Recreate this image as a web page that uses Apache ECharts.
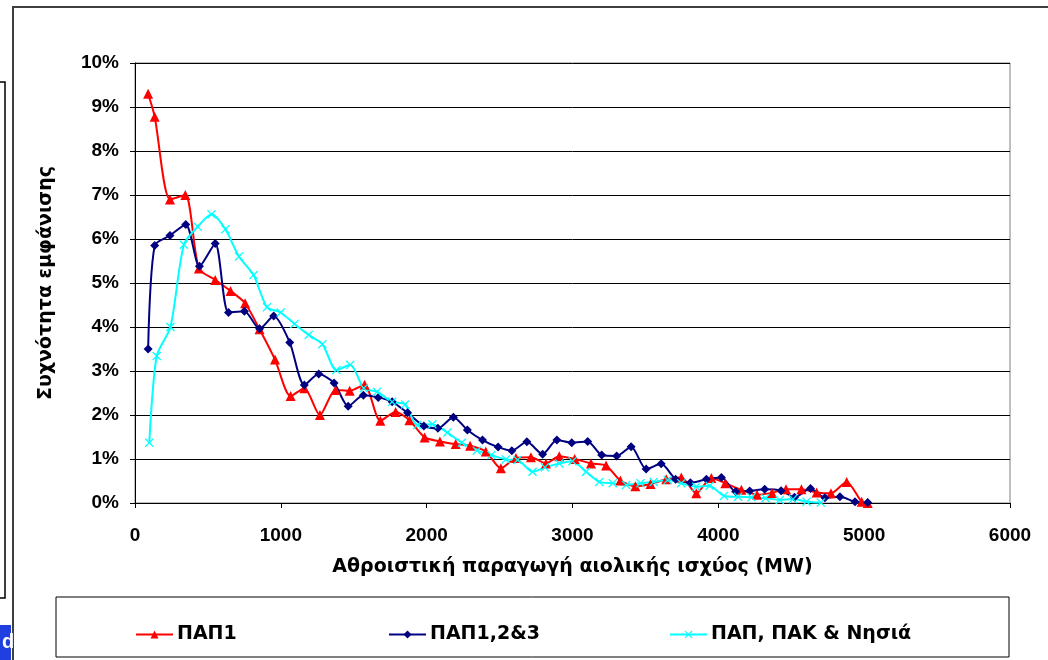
<!DOCTYPE html>
<html>
<head>
<meta charset="utf-8">
<script src="https://cdn.jsdelivr.net/npm/echarts@6/dist/echarts.min.js"></script>
<style>
    html, body { margin: 0; padding: 0; background: #fff; }
    #chart { width: 1048px; height: 660px; }
</style>
</head>
<body>
<div id="chart"></div>
<script>
    // ΠΑΠ1
    var pap1Mw = [90, 135, 240, 345, 438, 550, 655, 755, 854, 960, 1067, 1161, 1268, 1375, 1472, 1574, 1682, 1787, 1882, 1986,
        2091, 2199, 2298, 2405, 2509, 2612, 2715, 2818, 2909, 3015, 3127, 3230, 3328, 3431, 3535, 3643, 3746, 3849, 3952, 4048,
        4158, 4265, 4368, 4464, 4570, 4674, 4772, 4880, 4983, 5024];
    var pap1Pct = [9.30, 8.78, 6.90, 7.00, 5.33, 5.07, 4.82, 4.54, 3.95, 3.26, 2.43, 2.61, 2.00, 2.57, 2.55, 2.69, 1.87, 2.07, 1.88, 1.49,
        1.40, 1.34, 1.30, 1.17, 0.79, 1.02, 1.04, 0.90, 1.06, 1.00, 0.90, 0.85, 0.51, 0.38, 0.43, 0.54, 0.58, 0.22, 0.57, 0.45,
        0.30, 0.19, 0.23, 0.31, 0.31, 0.24, 0.22, 0.48, 0.03, 0.00];

    // ΠΑΠ1,2&3
    var pap123Mw = [90, 135, 240, 348, 442, 550, 641, 750, 854, 951, 1061, 1161, 1260, 1365, 1462, 1566, 1668, 1763, 1869, 1981,
        2077, 2183, 2279, 2383, 2490, 2584, 2687, 2795, 2893, 2995, 3104, 3200, 3303, 3402, 3505, 3608, 3707, 3808, 3918, 4021,
        4119, 4215, 4318, 4430, 4522, 4632, 4731, 4834, 4937, 5024];
    var pap123Pct = [3.50, 5.85, 6.08, 6.33, 5.38, 5.90, 4.33, 4.36, 3.96, 4.25, 3.65, 2.68, 2.93, 2.73, 2.20, 2.45, 2.40, 2.30, 2.05, 1.75,
        1.70, 1.95, 1.66, 1.43, 1.27, 1.19, 1.39, 1.11, 1.43, 1.37, 1.40, 1.09, 1.07, 1.28, 0.77, 0.89, 0.54, 0.46, 0.54, 0.58,
        0.26, 0.27, 0.31, 0.28, 0.13, 0.33, 0.12, 0.14, 0.03, 0.01];

    // ΠΑΠ, ΠΑΚ & Νησιά
    var papPakMw = [98, 149, 243, 335, 430, 525, 620, 713, 813, 905, 999, 1094, 1191, 1285, 1381, 1476, 1569, 1660, 1763, 1853,
        1936, 2039, 2142, 2241, 2344, 2444, 2543, 2623, 2726, 2811, 2909, 3000, 3093, 3184, 3276, 3368, 3466, 3557, 3653, 3746,
        3849, 3940, 4039, 4135, 4227, 4323, 4421, 4512, 4605, 4703];
    var papPakPct = [1.37, 3.34, 4.00, 5.87, 6.28, 6.56, 6.22, 5.60, 5.18, 4.45, 4.33, 4.07, 3.82, 3.61, 3.02, 3.14, 2.61, 2.53, 2.30, 2.24,
        1.77, 1.79, 1.60, 1.37, 1.19, 1.09, 0.99, 0.98, 0.71, 0.81, 0.90, 0.95, 0.71, 0.48, 0.45, 0.41, 0.45, 0.48, 0.52, 0.45,
        0.37, 0.39, 0.16, 0.14, 0.13, 0.11, 0.07, 0.09, 0.03, 0.01];

    var seriesNames = ['ΠΑΠ1', 'ΠΑΠ1,2&3', 'ΠΑΠ, ΠΑΚ & Νησιά'];

    function pairs(xs, ys) {
        return xs.map(function (x, i) { return [x, ys[i]]; });
    }

    var crossSymbol = 'path://M0,1L1,0L5,4L9,0L10,1L6,5L10,9L9,10L5,6L1,10L0,9L4,5Z';
    var tickFont = 'Liberation Sans, Arial, sans-serif';
    var greekFont = 'DejaVu Sans, Verdana, sans-serif';
    var tickStyle = { color: '#000', fontFamily: tickFont, fontWeight: 'bold', fontSize: 19 };
    var nameStyle = { color: '#000', fontFamily: greekFont, fontWeight: 'bold', fontSize: 19 };

    var chart = echarts.init(document.getElementById('chart'));
    chart.setOption({
        backgroundColor: '#fff',
        animation: false,
        grid: {
            left: 135, right: 38, top: 63, bottom: 157,
            show: true, borderColor: '#808080', borderWidth: 1
        },
        xAxis: {
            type: 'value',
            min: 0, max: 6000, interval: 1000,
            name: 'Αθροιστική παραγωγή αιολικής ισχύος (MW)',
            nameLocation: 'middle',
            nameGap: 55,
            nameTextStyle: nameStyle,
            axisLine: { show: true, lineStyle: { color: '#000', width: 1 } },
            axisTick: { show: true, length: 5, lineStyle: { color: '#000' } },
            axisLabel: Object.assign({ margin: 23, formatter: function (v) { return String(v); } }, tickStyle),
            splitLine: { show: false }
        },
        yAxis: {
            type: 'value',
            min: 0, max: 10, interval: 1,
            name: 'Συχνότητα εμφάνισης',
            nameLocation: 'middle',
            nameGap: 79,
            nameTextStyle: nameStyle,
            axisLine: { show: true, lineStyle: { color: '#000', width: 1 } },
            axisTick: { show: true, length: 5, lineStyle: { color: '#000' } },
            axisLabel: Object.assign({ margin: 16, formatter: '{value}%' }, tickStyle),
            splitLine: { show: true, lineStyle: { color: '#000', width: 1 } }
        },
        legend: [
            { data: [seriesNames[0]], left: 130, top: 620 },
            { data: [seriesNames[1]], left: 383, top: 620 },
            { data: [seriesNames[2]], left: 664, top: 620 }
        ].map(function (l) {
            return Object.assign({
                itemWidth: 37, itemHeight: 10, itemGap: 4,
                textStyle: { color: '#000', fontFamily: greekFont, fontWeight: 'bold', fontSize: 19, padding: [0, 0, 0, -1] }
            }, l);
        }),
        graphic: [
            { type: 'rect', shape: { x: 56, y: 597, width: 953, height: 60 },
              style: { fill: null, stroke: '#000', lineWidth: 1 } },
            { type: 'polyline', shape: { points: [[13, 660], [13, 7], [1048, 7]] },
              style: { fill: null, stroke: '#404040', lineWidth: 2 } },
            { type: 'polyline', shape: { points: [[0, 82], [5, 82], [5, 598], [0, 598]] },
              style: { fill: null, stroke: '#000', lineWidth: 1.5 } },
            { type: 'rect', shape: { x: 0, y: 625, width: 11, height: 35 },
              style: { fill: '#1f3fe0' } },
            { type: 'text', x: 2, y: 632, style: { text: 'd', fill: '#fff', font: 'bold 20px Liberation Sans' } }
        ],
        series: [
            {
                name: seriesNames[0], type: 'line', smooth: 0.25,
                data: pairs(pap1Mw, pap1Pct),
                symbol: 'triangle', symbolSize: 10,
                lineStyle: { color: '#ff0000', width: 2 },
                itemStyle: { color: '#ff0000' }
            },
            {
                name: seriesNames[1], type: 'line', smooth: 0.25,
                data: pairs(pap123Mw, pap123Pct),
                symbol: 'diamond', symbolSize: 9,
                lineStyle: { color: '#000080', width: 2 },
                itemStyle: { color: '#000080' }
            },
            {
                name: seriesNames[2], type: 'line', smooth: 0.25,
                data: pairs(papPakMw, papPakPct),
                symbol: crossSymbol, symbolSize: 9,
                lineStyle: { color: '#00ffff', width: 2 },
                itemStyle: { color: '#00ffff' }
            }
        ]
    });
</script>
</body>
</html>
